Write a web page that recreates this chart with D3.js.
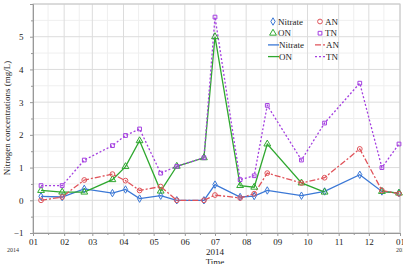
<!DOCTYPE html>
<html>
<head>
<meta charset="utf-8">
<script src="https://cdn.jsdelivr.net/npm/d3@7"></script>
<style>
  body { margin: 0; background: #fff; }
  text { font-family: "Liberation Serif", "DejaVu Serif", serif; }
</style>
</head>
<body>
<div id="vis-holder"></div>
<script>
// sampling dates (2014)
const dates = ["2014-01-09","2014-01-30","2014-02-21","2014-03-21","2014-04-03","2014-04-17",
  "2014-05-08","2014-05-24","2014-06-20","2014-07-01","2014-07-26","2014-08-09","2014-08-22",
  "2014-09-25","2014-10-18","2014-11-22","2014-12-14","2014-12-31"];

const nitrate = [0.12, 0.1, 0.35, 0.22, 0.33, 0.05, 0.14, 0.0, 0.0, 0.48, 0.1, 0.13, 0.3, 0.14, 0.27, 0.78, 0.27, 0.22];
const on      = [0.3, 0.25, 0.25, 0.63, 1.03, 1.82, 0.28, 1.04, 1.3, 5.0, 0.45, 0.4, 1.72, 0.53, 0.25, null, 0.27, 0.22];
const an      = [0.0, 0.1, 0.62, 0.8, 0.6, 0.3, 0.42, 0.0, 0.0, 0.16, 0.07, 0.2, 0.83, 0.53, 0.69, 1.57, 0.3, 0.2];
const tn      = [0.45, 0.45, 1.23, 1.67, 1.98, 2.18, 0.83, 1.04, 1.3, 5.6, 0.63, 0.75, 2.9, 1.23, 2.36, 3.58, 1.0, 1.72];

const yTicks = [-1, 0, 1, 2, 3, 4, 5];
const monthLabels = ["01","02","03","04","05","06","07","08","09","10","11","12","01"];

const series = [
  {name: "Nitrate", values: nitrate, color: "#3b78d6", dash: null, symbol: "diamond"},
  {name: "ON", values: on, color: "#2fa82f", dash: null, symbol: "triangle"},
  {name: "AN", values: an, color: "#e0535a", dash: "6,2,2,2", symbol: "circle"},
  {name: "TN", values: tn, color: "#a43fe0", dash: "2,2", symbol: "square"}
];

const width = 403, height = 264;
const margin = {top: 4, right: 3, bottom: 31, left: 33};

const svg = d3.select("#vis-holder").append("svg")
  .attr("width", width).attr("height", height);

const parse = d3.timeParse("%Y-%m-%d");
const dt = dates.map(parse);

const x = d3.scaleTime()
  .domain([new Date(2014, 0, 1), new Date(2015, 0, 1)])
  .range([margin.left, width - margin.right]);
const y = d3.scaleLinear()
  .domain([-1, 6])
  .range([height - margin.bottom, margin.top]);

// grid
const months = d3.timeMonth.range(new Date(2014, 0, 1), new Date(2015, 0, 2));
const halfMonths = months.slice(0, -1).map(m => new Date(m.getFullYear(), m.getMonth(), 16));
const g = svg.append("g");
g.selectAll(".vminor").data(halfMonths).enter().append("line")
  .attr("x1", d => x(d)).attr("x2", d => x(d))
  .attr("y1", margin.top).attr("y2", height - margin.bottom)
  .attr("stroke", "#efefef");
g.selectAll(".hminor").data(d3.range(-0.5, 6, 1)).enter().append("line")
  .attr("x1", margin.left).attr("x2", width - margin.right)
  .attr("y1", d => y(d)).attr("y2", d => y(d))
  .attr("stroke", "#efefef");
g.selectAll(".vmajor").data(months).enter().append("line")
  .attr("x1", d => x(d)).attr("x2", d => x(d))
  .attr("y1", margin.top).attr("y2", height - margin.bottom)
  .attr("stroke", "#dcdcdc");
g.selectAll(".hmajor").data(d3.range(-1, 7, 1)).enter().append("line")
  .attr("x1", margin.left).attr("x2", width - margin.right)
  .attr("y1", d => y(d)).attr("y2", d => y(d))
  .attr("stroke", "#dcdcdc");

// frame
svg.append("rect")
  .attr("x", margin.left).attr("y", margin.top)
  .attr("width", width - margin.left - margin.right)
  .attr("height", height - margin.top - margin.bottom)
  .attr("fill", "none").attr("stroke", "#c8c8c8");

// axes
const xAxis = svg.append("g")
  .attr("transform", `translate(0, ${height - margin.bottom})`)
  .call(d3.axisBottom(x).tickValues(months).tickSize(3).tickFormat((d, i) => monthLabels[i]));
svg.append("g")
  .attr("transform", `translate(0, ${height - margin.bottom})`)
  .call(d3.axisBottom(x).tickValues(halfMonths).tickSize(2).tickFormat(""))
  .call(a => a.select(".domain").remove());
const yAxis = svg.append("g")
  .attr("transform", `translate(${margin.left}, 0)`)
  .call(d3.axisLeft(y).tickValues(yTicks).tickSize(3).tickFormat(d3.format("d")));
svg.append("g")
  .attr("transform", `translate(${margin.left}, 0)`)
  .call(d3.axisLeft(y).tickValues(d3.range(-0.5, 6, 1)).tickSize(2).tickFormat(""))
  .call(a => a.select(".domain").remove());

svg.selectAll(".domain").attr("stroke", "#999");
svg.selectAll(".tick line").attr("stroke", "#999");
svg.selectAll(".tick text")
  .attr("font-family", "Liberation Serif, serif")
  .attr("font-size", "9px").attr("fill", "#222");
yAxis.selectAll(".tick text").attr("dx", "-0.4em");

svg.append("text").attr("x", 13).attr("y", 252)
  .attr("text-anchor", "middle").attr("font-size", "6px").attr("fill", "#333").text("2014");
svg.append("text").attr("x", 396).attr("y", 252)
  .attr("text-anchor", "start").attr("font-size", "6px").attr("fill", "#333").text("2015");
svg.append("text").attr("x", x(new Date(2014, 6, 1))).attr("y", 255)
  .attr("text-anchor", "middle").attr("font-size", "9px").attr("fill", "#222").text("2014");
svg.append("text").attr("x", x(new Date(2014, 6, 1))).attr("y", 265)
  .attr("text-anchor", "middle").attr("font-size", "9px").attr("fill", "#222").text("Time");
svg.append("text")
  .attr("transform", `translate(10, 118) rotate(-90)`)
  .attr("text-anchor", "middle").attr("font-size", "9px").attr("fill", "#222")
  .text("Nitrogen concentrations (mg/L)");

// lines and markers
const symbols = {
  diamond: d3.symbol().type(d3.symbolDiamond).size(16),
  triangle: d3.symbol().type(d3.symbolTriangle).size(20),
  circle: d3.symbol().type(d3.symbolCircle).size(18),
  square: d3.symbol().type(d3.symbolSquare).size(14)
};

series.forEach(s => {
  const pts = s.values.map((v, i) => ({date: dt[i], v: v}));
  const line = d3.line()
    .defined(d => d.v !== null)
    .x(d => x(d.date)).y(d => y(d.v));
  svg.append("path").datum(pts)
    .attr("d", line)
    .attr("fill", "none")
    .attr("stroke", s.color)
    .attr("stroke-width", 1.3)
    .attr("stroke-dasharray", s.dash);
});
series.forEach(s => {
  const pts = s.values.map((v, i) => ({date: dt[i], v: v})).filter(d => d.v !== null);
  svg.selectAll(".m-" + s.name).data(pts).enter().append("path")
    .attr("d", symbols[s.symbol])
    .attr("transform", d => `translate(${x(d.date)}, ${y(d.v)})`)
    .attr("fill", "none")
    .attr("stroke", s.color)
    .attr("stroke-width", 1);
});

// legend
const legendItems = [
  {s: series[0], col: 0, row: 0, kind: "marker"},
  {s: series[2], col: 1, row: 0, kind: "marker"},
  {s: series[1], col: 0, row: 1, kind: "marker"},
  {s: series[3], col: 1, row: 1, kind: "marker"},
  {s: series[0], col: 0, row: 2, kind: "line"},
  {s: series[2], col: 1, row: 2, kind: "line"},
  {s: series[1], col: 0, row: 3, kind: "line"},
  {s: series[3], col: 1, row: 3, kind: "line"}
];
const lg = svg.append("g");
legendItems.forEach(it => {
  const lx = 273 + it.col * 47;
  const ly = 21.5 + it.row * 11.7;
  if (it.kind === "marker") {
    lg.append("path").attr("d", symbols[it.s.symbol])
      .attr("transform", `translate(${lx}, ${ly})`)
      .attr("fill", "none").attr("stroke", it.s.color);
    lg.append("text").attr("x", lx + 5).attr("y", ly + 3)
      .attr("font-size", "9px").attr("fill", "#222").text(it.s.name);
  } else {
    lg.append("line").attr("x1", lx - 5).attr("x2", lx + 6)
      .attr("y1", ly).attr("y2", ly)
      .attr("stroke", it.s.color).attr("stroke-width", 1.3)
      .attr("stroke-dasharray", it.s.dash);
    lg.append("text").attr("x", lx + 6).attr("y", ly + 3)
      .attr("font-size", "9px").attr("fill", "#222").text(it.s.name);
  }
});
</script>
</body>
</html>
